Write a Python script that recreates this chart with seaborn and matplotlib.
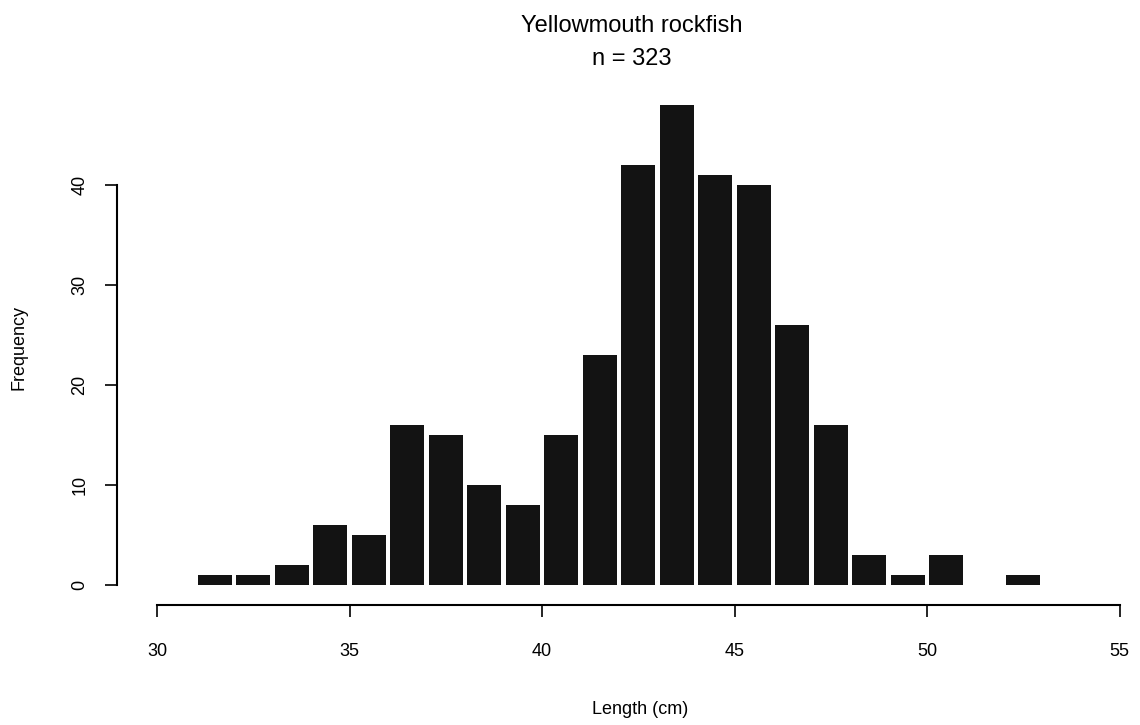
import numpy as np
import pandas as pd
import matplotlib
matplotlib.use("Agg")
import matplotlib.pyplot as plt
import seaborn as sns

# Data
length_bins = [31, 32, 33, 34, 35, 36, 37, 38, 39, 40, 41,
               42, 43, 44, 45, 46, 47, 48, 49, 50, 51, 52]
counts = [1, 1, 2, 6, 5, 16, 15, 10, 8, 15, 23,
          42, 48, 41, 40, 26, 16, 3, 1, 3, 0, 1]
x_ticks = [30, 35, 40, 45, 50, 55]
y_ticks = [0, 10, 20, 30, 40]
title_line1 = "Yellowmouth rockfish"
title_line2 = "n = 323"
x_label = "Length (cm)"
y_label = "Frequency"

sns.set_style("white")
plt.rcParams["font.family"] = ["Liberation Sans", "DejaVu Sans"]
plt.rcParams["text.color"] = "black"
plt.rcParams["axes.labelcolor"] = "black"
plt.rcParams["xtick.color"] = "black"
plt.rcParams["ytick.color"] = "black"

df = pd.DataFrame({"mid": np.array(length_bins) + 0.5, "count": counts})
edges = list(length_bins) + [length_bins[-1] + 1]

fig = plt.figure(figsize=(11.4, 7.25), dpi=100)
ax = fig.add_axes([117 / 1140, 120 / 725, 1013 / 1140, 515 / 725])

sns.histplot(data=df, x="mid", weights="count", bins=edges, shrink=0.88,
             color="#131313", edgecolor="none", alpha=1, ax=ax)

ax.set_xlim(30 - 40 / 38.5, 30 + (1130 - 157) / 38.5)
ax.set_ylim(-2.0, 49.5)

for s in ["top", "right"]:
    ax.spines[s].set_visible(False)
for s in ["left", "bottom"]:
    ax.spines[s].set_color("black")
    ax.spines[s].set_linewidth(1.5)
ax.spines["left"].set_bounds(0, 40)
ax.spines["bottom"].set_bounds(30, 55)

ax.set_xticks(x_ticks)
ax.set_yticks(y_ticks)
ax.set_xticklabels([str(t) for t in x_ticks])
ax.set_yticklabels([str(t) for t in y_ticks], rotation=90, va="center")
ax.tick_params(axis="x", direction="out", length=8.5, width=1.2, color="black",
               labelcolor="black", labelsize=13, pad=19, bottom=True)
ax.tick_params(axis="y", direction="out", length=8.5, width=1.2, color="black",
               labelcolor="black", labelsize=13, pad=12, left=True)
ax.grid(False)

ax.set_xlabel(x_label, fontsize=13, color="black")
ax.set_ylabel(y_label, fontsize=13, color="black")
ax.xaxis.set_label_coords((640 - 117) / 1013, (605 - 710) / 515)
ax.xaxis.label.set_va("center")
ax.yaxis.set_label_coords((19 - 117) / 1013, 0.5)
ax.yaxis.label.set_va("center")

fig.text(632 / 1140, 1 - 32 / 725, title_line1, ha="center", va="baseline",
         fontsize=17, color="black")
fig.text(632 / 1140, 1 - 65 / 725, title_line2, ha="center", va="baseline",
         fontsize=17, color="black")

fig.savefig("out.png", dpi=100, facecolor="white")
